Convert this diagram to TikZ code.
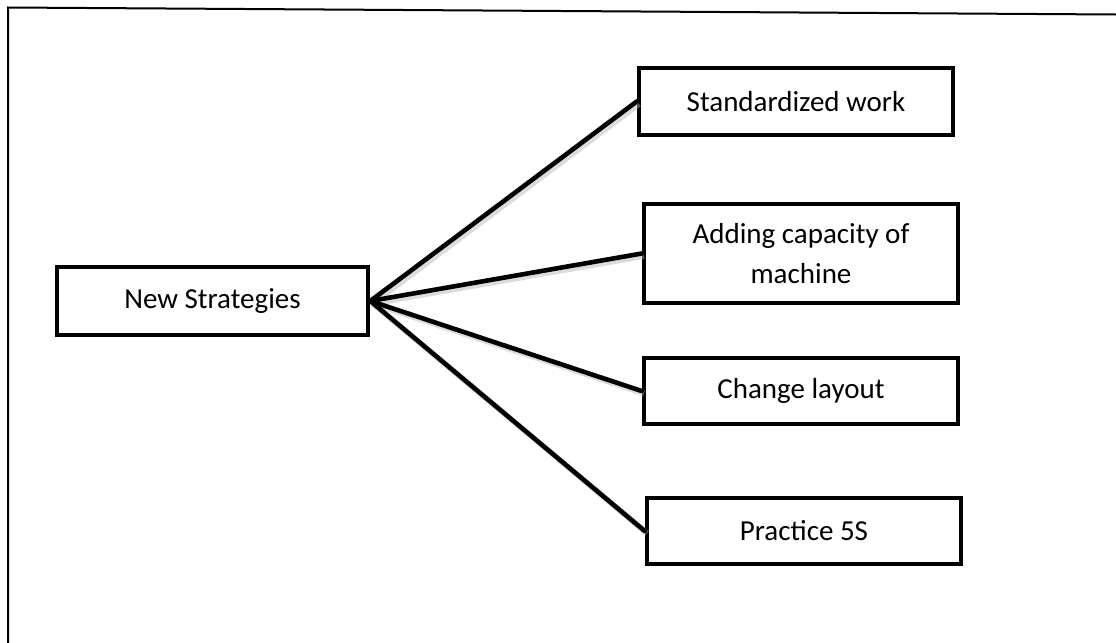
\documentclass[tikz,border=0pt]{standalone}
\usepackage{fontspec}
\setmainfont{Carlito}
\begin{document}
\begin{tikzpicture}[x=0.5pt,y=-0.5pt,
  box/.style={draw=black,line width=2.3pt,fill=white,inner sep=0pt,
    align=center,font=\fontsize{14.5}{20}\selectfont},
  link/.style={line width=2.3pt,line cap=round},
  linkshade/.style={line width=3pt,draw=black!30,opacity=0.45}]
\useasboundingbox (0,0) rectangle (1116,643);
% frame
\draw[line width=1pt] (8,643) -- (8,7.5) -- (1116,14.5);
% nodes
\node[box,minimum width=155.5pt,minimum height=34pt] (ns) at (212.5,301) {New Strategies};
\node[box,minimum width=157pt,minimum height=33.5pt] (sw) at (796,101.5) {Standardized work};
\node[box,minimum width=157pt,minimum height=49.5pt] (ac) at (801,253.5) {Adding capacity of\\machine};
\node[box,minimum width=157pt,minimum height=33pt] (cl) at (801,391) {Change layout};
\node[box,minimum width=157pt,minimum height=33pt] (p5) at (804,531) {Practice 5S};
% connectors with a soft shade
\foreach \t in {sw,ac,cl,p5}{
  \draw[linkshade,transform canvas={shift={(1.2pt,-1.2pt)}}] (ns.east) -- (\t.west);
}
\foreach \t in {sw,ac,cl,p5}{
  \draw[link] (ns.east) -- (\t.west);
}
\end{tikzpicture}
\end{document}
